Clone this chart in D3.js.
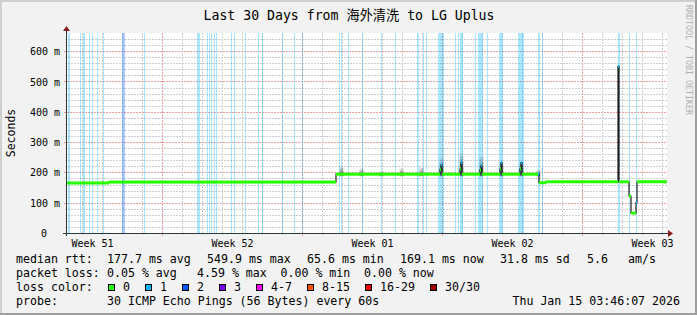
<!DOCTYPE html>
<html>
<head>
<meta charset="utf-8">
<script src="https://cdn.jsdelivr.net/npm/d3@7"></script>
<style>
  body { margin: 0; background: #f2f2f2; }
  svg { display: block; }
  text { font-family: "DejaVu Sans Mono", "Noto Sans CJK SC", monospace; fill: #000; }
</style>
</head>
<body>
<svg id="chart" width="697" height="315"></svg>
<script>
// ---- data (x values are days since the start of the 30 day window) ----
const title = "Last 30 Days from 海外清洗 to LG Uplus";
const yTicks = [0, 100, 200, 300, 400, 500, 600];
const weekDays = [1.25, 8.25, 15.25, 22.25, 29.25];
const weekLabels = ["Week 51", "Week 52", "Week 01", "Week 02", "Week 03"];
const maxRtt = 549.9;

// packet loss periods: start day, length in days, lost pings
const lossStart = [0.05, 0.65, 0.8, 1.1, 1.25, 1.5, 1.8, 2.75, 3.85, 6.5, 7.0, 7.1, 7.2, 7.35, 7.45,
  8.2, 8.35, 8.9, 9.55, 9.75, 10.75, 11.35, 11.75, 13.6, 13.7, 14.05, 14.75, 15.7, 16.4,
  17.5, 17.8, 17.95, 18.55, 19.4, 19.55, 19.65, 20.4, 20.55, 21.0, 21.6, 22.55, 23.55, 23.75,
  27.55, 28.1, 28.45];
const lossLen = [0.1, 0.05, 0.1, 0.05, 0.05, 0.05, 0.05, 0.15, 0.05, 0.15, 0.05, 0.05, 0.05, 0.05, 0.05,
  0.05, 0.05, 0.05, 0.05, 0.05, 0.05, 0.05, 0.05, 0.05, 0.05, 0.05, 0.05, 0.05, 0.05,
  0.1, 0.05, 0.05, 0.3, 0.05, 0.05, 0.15, 0.05, 0.25, 0.05, 0.2, 0.3, 0.1, 0.05,
  0.1, 0.05, 0.05];
const lossCount = [1, 1, 1, 1, 1, 1, 1, 2, 1, 1, 1, 1, 1, 1, 1,
  1, 1, 1, 1, 1, 1, 1, 1, 1, 1, 1, 1, 1, 1,
  1, 1, 1, 1, 1, 1, 1, 1, 1, 1, 1, 1, 1, 1,
  1, 1, 1];

// median rtt (ms), each value holds until the next day in the list
const medDays = [0, 2.1, 13.45,
  18.65, 18.7, 18.75, 19.65, 19.7, 19.75, 20.65, 20.7, 20.75,
  21.65, 21.7, 21.75, 22.65, 22.7, 22.75,
  23.55, 23.6, 23.95, 27.55, 27.6, 28.1, 28.2, 28.45, 28.5];
const medValues = [165, 168, 194,
  210, 225, 194, 212, 232, 194, 208, 222, 194,
  212, 232, 194, 212, 232, 194,
  194, 166, 169, 549.9, 169, 122, 65.6, 100, 169.1];
const medLoss = [0, 0, 0,
  0, 1, 0, 0, 1, 0, 0, 1, 0,
  0, 1, 0, 0, 1, 0,
  1, 0, 0, 1, 0, 0, 0, 1, 0];

// smoke (spread of the pings) around the daily bumps
const smokeDays = [13.7, 14.7, 15.7, 16.7, 17.7, 18.7, 19.7, 20.7, 21.7, 22.7, 23.55];
const smokeTop = [221, 214, 203, 214, 218, 247, 264, 254, 235, 235, 208];

// legend
const lossColors = ["#26ff00", "#00b8ff", "#0059ff", "#7e00ff", "#ff00ff", "#ff5500", "#ff0000", "#a10000"];
const lossLabels = ["0", "1", "2", "3", "4-7", "8-15", "16-29", "30/30"];
const rttStats = ["177.7 ms avg", "549.9 ms max", "65.6 ms min", "169.1 ms now", "31.8 ms sd", "5.6", "am/s"];
const lossStats = ["0.05 % avg", "4.59 % max", "0.00 % min", "0.00 % now"];
const probeText = "30 ICMP Echo Pings (56 Bytes) every 60s";
const stamp = "Thu Jan 15 03:46:07 2026";

// ---- layout ----
const W = 697, H = 315;
const pL = 67, pR = 667, pT = 33, pB = 233;
const svg = d3.select("#chart");

const x = d3.scaleLinear().domain([0, 30]).range([pL, pR]);
const y = d3.scaleLinear().domain([0, maxRtt * 1.2]).range([pB, pT]);
const py = v => Math.round(y(v)) + 0.5;

// background + rrdtool style frame
svg.append("rect").attr("width", W).attr("height", H).attr("fill", "#f2f2f2");
svg.append("path").attr("d", `M0,${H} V0 H${W}`).attr("stroke", "#cfcfcf").attr("stroke-width", 4).attr("fill", "none");
svg.append("path").attr("d", `M0,${H} H${W} V0`).attr("stroke", "#9e9e9e").attr("stroke-width", 4).attr("fill", "none");
svg.append("rect").attr("x", pL).attr("y", pT).attr("width", pR - pL).attr("height", pB - pT).attr("fill", "#fff");

// grid
const grid = svg.append("g");
const majorDays = [4.75, 11.75, 18.75, 25.75];
const minorDays = d3.range(0.75, 30, 1).filter(d => !majorDays.includes(d));
const minorY = d3.range(20, maxRtt * 1.2, 20).filter(v => v % 100 !== 0);
const majorY = yTicks.filter(v => v > 0);

grid.selectAll(".vmin").data(minorDays).join("line")
  .attr("x1", d => x(d) + 0.5).attr("x2", d => x(d) + 0.5).attr("y1", pT).attr("y2", pB + 2)
  .attr("stroke", "#cdcdcd").attr("stroke-dasharray", "2,1");
grid.selectAll(".hmin").data(minorY).join("line")
  .attr("x1", pL - 2).attr("x2", pR).attr("y1", py).attr("y2", py)
  .attr("stroke", "#cdcdcd").attr("stroke-dasharray", "2,1");
grid.selectAll(".vmaj").data(majorDays).join("line")
  .attr("x1", d => x(d) + 0.5).attr("x2", d => x(d) + 0.5).attr("y1", pT).attr("y2", pB + 3)
  .attr("stroke", "#e8a0a0").attr("stroke-dasharray", "2,1");
grid.selectAll(".hmaj").data(majorY).join("line")
  .attr("x1", pL - 3).attr("x2", pR).attr("y1", py).attr("y2", py)
  .attr("stroke", "#e8a0a0").attr("stroke-dasharray", "2,1");

// loss bars
const lossIdx = d3.range(lossStart.length);
svg.append("g").selectAll("rect").data(lossIdx).join("rect")
  .attr("x", i => x(lossStart[i]))
  .attr("width", i => Math.max(1, x(lossStart[i] + lossLen[i]) - x(lossStart[i])))
  .attr("y", pT).attr("height", pB - pT)
  .attr("fill", i => lossColors[lossCount[i]])
  .attr("fill-opacity", 0.33);

// smoke
const defs = svg.append("defs");
const grad = defs.append("linearGradient").attr("id", "smoke").attr("x1", 0).attr("y1", 1).attr("x2", 0).attr("y2", 0);
grad.append("stop").attr("offset", "0%").attr("stop-color", "#000").attr("stop-opacity", 0.5);
grad.append("stop").attr("offset", "60%").attr("stop-color", "#000").attr("stop-opacity", 0.25);
grad.append("stop").attr("offset", "100%").attr("stop-color", "#000").attr("stop-opacity", 0.05);
svg.append("g").selectAll("rect").data(d3.range(smokeDays.length)).join("rect")
  .attr("x", i => x(smokeDays[i]) - 1.5).attr("width", 4)
  .attr("y", i => y(smokeTop[i])).attr("height", i => y(194) + 2 - y(smokeTop[i]))
  .attr("fill", "url(#smoke)");

// median: thin dark line plus loss coloured strip
const medIdx = d3.range(medDays.length);
const medPts = medIdx.map(i => [medDays[i], medValues[i]]).concat([[30, medValues[medValues.length - 1]]]);
svg.append("path")
  .attr("d", d3.line().x(d => x(d[0])).y(d => y(d[1])).curve(d3.curveStepAfter)(medPts))
  .attr("fill", "none").attr("stroke", "#202020").attr("stroke-width", 1.2);
svg.append("g").selectAll("rect").data(medIdx).join("rect")
  .attr("x", i => x(medDays[i]))
  .attr("width", i => x(i + 1 < medDays.length ? medDays[i + 1] : 30) - x(medDays[i]))
  .attr("y", i => y(medValues[i]) - 1.5).attr("height", 3)
  .attr("fill", i => lossColors[medLoss[i]]);

// axes
const axisCol = "#2c3a3a", arrowCol = "#8b1a1a";
svg.append("line").attr("x1", pL - 0.5).attr("x2", pL - 0.5).attr("y1", pB + 3).attr("y2", pT - 3)
  .attr("stroke", axisCol);
svg.append("line").attr("x1", pL - 4).attr("x2", pR + 2).attr("y1", pB + 0.5).attr("y2", pB + 0.5)
  .attr("stroke", axisCol);
svg.append("path").attr("d", `M${pL - 4},${pT - 2} L${pL + 3},${pT - 2} L${pL - 0.5},${pT - 7} Z`).attr("fill", arrowCol);
svg.append("path").attr("d", `M${pR + 1},${pB - 3} L${pR + 1},${pB + 4} L${pR + 6},${pB + 0.5} Z`).attr("fill", arrowCol);

const yAxis = d3.axisLeft(y).tickValues(yTicks).tickSize(0).tickPadding(0)
  .tickFormat(v => v === 0 ? "0" : v + " m");
svg.append("g").attr("transform", `translate(${pL - 7},0)`).call(yAxis)
  .call(g => g.select(".domain").remove())
  .call(g => g.selectAll("text").attr("font-size", 10).attr("font-family", null).attr("dy", "0.36em")
    .attr("dx", v => v === 0 ? -13 : 0));

const xAxis = d3.axisBottom(x).tickValues(weekDays).tickSize(0).tickPadding(0)
  .tickFormat((d, i) => weekLabels[i]);
svg.append("g").attr("transform", `translate(0,${pB + 14})`).call(xAxis)
  .call(g => g.select(".domain").remove())
  .call(g => g.selectAll("text").attr("font-size", 10).attr("font-family", null).attr("dy", 0));

// titles
svg.append("text").attr("x", 349).attr("y", 19.5).attr("text-anchor", "middle")
  .attr("font-size", 13.2).text(title);
svg.append("text").attr("transform", "translate(14.5,133) rotate(-90)").attr("text-anchor", "middle")
  .attr("font-size", 11.5).text("Seconds");
svg.append("text").attr("transform", "translate(686,5) rotate(90)")
  .attr("font-size", 8.3).style("fill", "#b0b0b0").text("RRDTOOL / TOBI OETIKER");

// legend
const lg = svg.append("g").attr("font-size", 11.6);
const rowY = [262.5, 276.5, 290.5, 304.5];
const rttX = [107, 207, 307, 400, 500, 587, 628];
const lossX = [107, 197, 280.5, 364];
lg.append("text").attr("x", 16).attr("y", rowY[0]).text("median rtt:");
rttStats.forEach((s, i) => lg.append("text").attr("x", rttX[i]).attr("y", rowY[0]).text(s));
lg.append("text").attr("x", 16).attr("y", rowY[1]).text("packet loss:");
lossStats.forEach((s, i) => lg.append("text").attr("x", lossX[i]).attr("y", rowY[1]).text(s));
lg.append("text").attr("x", 16).attr("y", rowY[2]).text("loss color:");
let bx = 108;
lossLabels.forEach((s, i) => {
  lg.append("rect").attr("x", bx + 0.5).attr("y", rowY[2] - 6).attr("width", 6).attr("height", 6)
    .attr("fill", lossColors[i]).attr("stroke", "#000");
  lg.append("text").attr("x", bx + 15).attr("y", rowY[2]).text(s);
  bx += 30 + 7 * s.length;
});
lg.append("text").attr("x", 16).attr("y", rowY[3]).text("probe:");
lg.append("text").attr("x", 107).attr("y", rowY[3]).text(probeText);
lg.append("text").attr("x", 680).attr("y", rowY[3]).attr("text-anchor", "end").text(stamp);
</script>
</body>
</html>
